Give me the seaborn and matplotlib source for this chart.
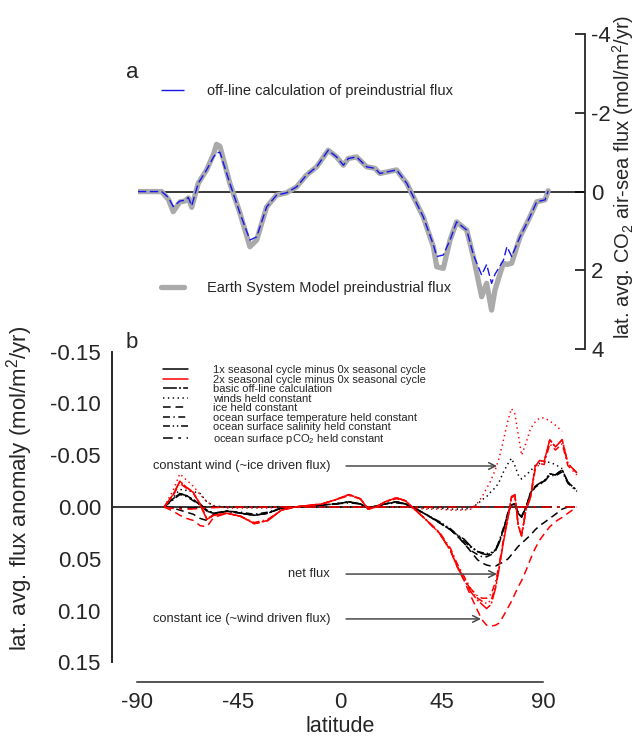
import numpy as np
import pandas as pd
import matplotlib
matplotlib.use("Agg")
import matplotlib.pyplot as plt
from matplotlib.lines import Line2D
import seaborn as sns

sns.set_style("white")
plt.rcParams["font.family"] = ["Liberation Sans", "DejaVu Sans"]
plt.rcParams["mathtext.fontset"] = "custom"
plt.rcParams["mathtext.rm"] = "Liberation Sans"
plt.rcParams["mathtext.it"] = "Liberation Sans:italic"
plt.rcParams["axes.unicode_minus"] = False
plt.rcParams["lines.scale_dashes"] = False

# ---- panel a: latitudinal average preindustrial flux (mol/m2/yr, positive = into ocean shown downward)
lat_a = [-89.5, -79, -76, -73.9, -70.9, -68.7, -67.2, -65.7, -62.8, -59.1, -56, -54.7, -53.2,
         -48.8, -44.3, -39.9, -36.9, -32.5, -28.1, -23.6, -19.2, -14.8, -10.3, -5.2, -1.5, 1.5,
         3.7, 7.4, 11.8, 15.5, 17.7, 25.1, 29.6, 32.5, 36.9, 41.4, 42.9, 45.8, 48.8, 51.7,
         56.2, 59.1, 62.8, 65.0, 67.2, 68.7, 72.4, 74, 76.1, 79.8, 84.2, 87.2, 90.9, 92.3]
esm_a = [0, 0, 0.2, 0.51, 0.26, 0.24, 0.16, 0.40, -0.21, -0.55, -0.95, -1.2, -1.15,
         -0.21, 0.55, 1.40, 1.23, 0.39, 0.09, 0.03, -0.12, -0.42, -0.63, -1.05, -0.88, -0.67,
         -0.84, -0.88, -0.63, -0.59, -0.46, -0.55, -0.21, 0.13, 0.64, 1.40, 1.91, 1.95, 1.23, 0.77,
         0.98, 1.65, 2.67, 2.33, 3.01, 2.50, 1.82, 1.85, 1.82, 1.15, 0.64, 0.26, 0.21, -0.02]
offline_a = [0, 0, 0.15, 0.38, 0.24, 0.22, 0.15, 0.36, -0.21, -0.55, -0.88, -0.98, -1.0,
             -0.21, 0.55, 1.23, 1.15, 0.39, 0.09, 0.03, -0.12, -0.42, -0.63, -1.05, -0.88, -0.67,
             -0.84, -0.88, -0.63, -0.59, -0.46, -0.55, -0.21, 0.13, 0.64, 1.35, 1.65, 1.61, 1.23, 0.77,
             0.98, 1.60, 2.12, 1.85, 2.33, 2.10, 1.75, 1.40, 1.65, 1.15, 0.64, 0.26, 0.21, -0.02]

# ---- panel b: seasonal-cycle flux anomaly (mol/m2/yr)
lat_b = [-78, -74, -71, -68, -65, -62, -59, -56, -50, -44, -38, -32, -26,
         -20, -8, -2, 4, 9, 12.5, 16, 20, 25, 29, 33, 38, 44,
         49, 52, 55, 58, 61, 63, 65, 67, 69, 70.5, 72.5, 74.5, 76,
         77.5, 79, 80.5, 82.5, 84.5, 86.5, 88.5, 90.5, 93, 95.5, 98.5, 101, 105]
nan = np.nan
basic_1x = [0.000, -0.008, -0.013, -0.011, -0.007, -0.003, 0.003, 0.006, 0.004, 0.006, 0.008, 0.006, 0.001,
            0.000, -0.002, -0.003, -0.005, -0.003, 0.001, -0.001, -0.003, -0.005, -0.003, 0.001, 0.007, 0.015,
            0.022, 0.027, 0.031, 0.038, 0.043, 0.045, 0.046, 0.045, 0.042, 0.035, 0.022, 0.006, -0.002,
            -0.003, 0.006, 0.010, 0.000, -0.014, -0.020, -0.023, -0.025, -0.032, -0.031, -0.036, -0.024, -0.016]
basic_2x = [0.000, -0.012, -0.025, -0.019, -0.014, -0.002, 0.012, 0.008, 0.006, 0.009, 0.016, 0.013, 0.003,
            0.000, -0.003, -0.007, -0.012, -0.008, 0.002, 0.000, -0.005, -0.009, -0.006, 0.002, 0.012, 0.025,
            0.042, 0.058, 0.070, 0.082, 0.090, 0.094, 0.098, 0.094, 0.078, 0.060, 0.033, 0.010, -0.010,
            -0.012, 0.018, 0.028, 0.002, -0.010, -0.039, -0.045, -0.044, -0.065, -0.058, -0.065, -0.042, -0.033]
winds_1x = [0.000, -0.009, -0.017, -0.016, -0.015, -0.013, -0.005, -0.001, 0.000, 0.000, 0.000, 0.000, 0.000,
            0.000, 0.000, 0.000, 0.000, 0.000, 0.000, 0.000, 0.000, 0.000, 0.000, 0.000, 0.001, 0.001,
            0.002, 0.002, 0.002, 0.001, -0.003, -0.007, -0.010, -0.015, -0.019, -0.024, -0.034, -0.042, -0.047,
            -0.040, -0.031, -0.027, -0.031, -0.035, -0.040, -0.042, -0.044, -0.043, -0.041, -0.037, nan, nan]
winds_2x = [0.000, -0.016, -0.032, -0.026, -0.020, -0.012, -0.005, -0.001, 0.001, 0.001, 0.001, 0.001, 0.000,
            0.000, 0.000, 0.000, 0.000, 0.000, 0.000, 0.000, 0.000, 0.000, 0.000, 0.001, 0.002, 0.002,
            0.003, 0.003, 0.003, 0.002, -0.004, -0.010, -0.018, -0.026, -0.037, -0.047, -0.065, -0.084, -0.095,
            -0.090, -0.070, -0.050, -0.062, -0.076, -0.082, -0.086, -0.086, -0.083, -0.079, -0.073, nan, nan]
ice_1x = [0.000, 0.001, 0.003, 0.005, 0.007, 0.011, 0.013, 0.007, 0.004, 0.006, 0.008, 0.006, 0.001,
          0.000, -0.002, -0.003, -0.005, -0.003, 0.001, -0.001, -0.003, -0.005, -0.003, 0.001, 0.007, 0.015,
          0.022, 0.028, 0.035, 0.043, 0.051, 0.054, 0.056, 0.057, 0.057, 0.055, 0.053, 0.050, 0.046,
          0.042, 0.038, 0.035, 0.031, 0.027, 0.022, 0.018, 0.015, 0.011, 0.007, 0.002, 0.000, nan]
ice_2x = [0.000, 0.004, 0.008, 0.011, 0.013, 0.018, 0.019, 0.010, 0.006, 0.009, 0.016, 0.013, 0.003,
          0.000, -0.003, -0.007, -0.012, -0.008, 0.002, 0.000, -0.005, -0.009, -0.006, 0.002, 0.012, 0.025,
          0.042, 0.058, 0.071, 0.086, 0.100, 0.109, 0.114, 0.115, 0.114, 0.112, 0.105, 0.097, 0.091,
          0.084, 0.077, 0.071, 0.061, 0.050, 0.040, 0.032, 0.026, 0.019, 0.014, 0.010, 0.006, 0.000]
sst_1x = [0.000, -0.007, -0.012, -0.010, -0.006, -0.002, 0.004, 0.006, 0.004, 0.005, 0.007, 0.005, 0.001,
          0.000, -0.002, -0.003, -0.004, -0.003, 0.001, -0.001, -0.003, -0.004, -0.003, 0.001, 0.007, 0.015,
          0.022, 0.028, 0.035, 0.042, 0.046, 0.048, 0.048, 0.046, 0.041, 0.033, 0.020, 0.005, -0.002,
          -0.003, 0.005, 0.009, 0.000, -0.013, -0.019, -0.022, -0.024, -0.031, -0.030, -0.034, -0.023, -0.015]
sst_2x = [0.000, -0.011, -0.023, -0.018, -0.013, -0.003, 0.011, 0.008, 0.006, 0.009, 0.015, 0.012, 0.003,
          0.000, -0.003, -0.007, -0.011, -0.008, 0.002, 0.000, -0.005, -0.008, -0.006, 0.002, 0.012, 0.024,
          0.040, 0.055, 0.067, 0.079, 0.086, 0.088, 0.088, 0.084, 0.072, 0.056, 0.031, 0.009, -0.009,
          -0.011, 0.017, 0.026, 0.002, -0.009, -0.036, -0.042, -0.041, -0.061, -0.055, -0.061, -0.040, -0.031]
sss_1x = [0.000, -0.008, -0.013, -0.011, -0.007, -0.002, 0.004, 0.006, 0.004, 0.006, 0.008, 0.006, 0.001,
          0.000, -0.002, -0.003, -0.005, -0.003, 0.001, -0.001, -0.003, -0.005, -0.003, 0.001, 0.007, 0.014,
          0.021, 0.027, 0.033, 0.039, 0.043, 0.044, 0.045, 0.044, 0.041, 0.034, 0.021, 0.006, -0.002,
          -0.003, 0.006, 0.010, 0.000, -0.014, -0.020, -0.023, -0.025, -0.032, -0.031, -0.036, -0.024, -0.016]
sss_2x = [0.000, -0.012, -0.024, -0.019, -0.014, -0.003, 0.012, 0.008, 0.006, 0.009, 0.016, 0.013, 0.003,
          0.000, -0.003, -0.007, -0.012, -0.008, 0.002, 0.000, -0.005, -0.009, -0.006, 0.002, 0.012, 0.025,
          0.042, 0.057, 0.069, 0.080, 0.088, 0.091, 0.093, 0.090, 0.076, 0.059, 0.033, 0.010, -0.010,
          -0.012, 0.018, 0.028, 0.002, -0.010, -0.039, -0.045, -0.044, -0.065, -0.058, -0.065, -0.042, -0.033]
lat_pco2 = [-78, -72, -66, -60, -50, 0, 50, 60, 70, 80, 90, 105]
pco2_1x = [0, 0.001, 0.001, 0, 0, 0, 0, 0, 0, 0, 0, 0]
pco2_2x = [0, 0.002, 0.002, 0.001, 0, 0, 0, 0, 0, 0, 0, 0]

experiments = ["basic off-line calculation", "winds held constant", "ice held constant",
               "ocean surface temperature held constant", "ocean surface salinity held constant",
               "ocean surface pCO$_2$ held constant"]
cycles = ["1x seasonal cycle minus 0x seasonal cycle", "2x seasonal cycle minus 0x seasonal cycle"]
annot_labels = ["constant wind (~ice driven flux)", "net flux", "constant ice (~wind driven flux)"]
annot_y = [-0.0396, 0.0647, 0.108]
annot_tip = [69.6, 69.6, 62.5]

series = {
    (cycles[0], experiments[0]): (lat_b, basic_1x), (cycles[1], experiments[0]): (lat_b, basic_2x),
    (cycles[0], experiments[1]): (lat_b, winds_1x), (cycles[1], experiments[1]): (lat_b, winds_2x),
    (cycles[0], experiments[2]): (lat_b, ice_1x), (cycles[1], experiments[2]): (lat_b, ice_2x),
    (cycles[0], experiments[3]): (lat_b, sst_1x), (cycles[1], experiments[3]): (lat_b, sst_2x),
    (cycles[0], experiments[4]): (lat_b, sss_1x), (cycles[1], experiments[4]): (lat_b, sss_2x),
    (cycles[0], experiments[5]): (lat_pco2, pco2_1x), (cycles[1], experiments[5]): (lat_pco2, pco2_2x),
}
frames = []
for (cyc, exp), (lat, val) in series.items():
    frames.append(pd.DataFrame({"lat": lat, "flux": val, "cycle": cyc, "experiment": exp}))
df_b = pd.concat(frames, ignore_index=True).dropna()

dash_map = {experiments[0]: (10, 1.5, 1.5, 1.5), experiments[1]: (1, 2.5),
            experiments[2]: (5.5, 3.5), experiments[3]: (5, 2.5, 1, 2.5),
            experiments[4]: (5, 2, 1, 2, 1, 2), experiments[5]: (7, 4, 2, 4)}
palette = {cycles[0]: "#000000", cycles[1]: "#ff0000"}

fig = plt.figure(figsize=(6.35, 7.36), dpi=100)
ax_a = fig.add_axes([138 / 635, 1 - 355 / 736, 447 / 635, 330 / 736])
ax_b = fig.add_axes([112 / 635, 1 - 670 / 736, 466 / 635, 330 / 736])
for ax in (ax_a, ax_b):
    ax.patch.set_visible(False)

# ---- panel a
ax_a.axhline(0, color="black", lw=1.1)
sns.lineplot(x=lat_a, y=esm_a, ax=ax_a, color="#aaaaaa", lw=3.8, sort=False)
sns.lineplot(x=lat_a, y=offline_a, ax=ax_a, color="#1515f0", lw=1.0, linestyle=(0, (6, 2.5)), sort=False)
ax_a.set_xlim(-89.5, 108.6)
ax_a.set_ylim(4.15, -4.23)
for s in ("left", "top", "bottom"):
    ax_a.spines[s].set_visible(False)
ax_a.spines["right"].set_bounds(-4, 4)
ax_a.spines["right"].set_linewidth(1.3)
ax_a.yaxis.tick_right()
ax_a.set_xticks([])
ax_a.set_yticks([-4, -2, 0, 2, 4])
ax_a.set_yticklabels(["-4", "-2", "0", "2", "4"])
ax_a.tick_params(axis="y", direction="in", length=7, width=1.3, labelsize=16, pad=4.5)
ax_a.yaxis.set_label_position("right")
ax_a.set_ylabel("lat. avg. CO$_2$ air-sea flux (mol/m$^2$/yr)", fontsize=14.5, rotation=90)
ax_a.yaxis.set_label_coords(1.057, 0.54)

h_off = Line2D([], [], color="#1515f0", lw=1.0, linestyle=(0, (16.6, 4)))
h_esm = Line2D([], [], color="#aaaaaa", lw=3.8)
leg_kw = dict(loc="center left", bbox_transform=fig.transFigure, frameon=False, fontsize=10.5,
              handlelength=1.58, handletextpad=1.58, borderpad=0, borderaxespad=0)
leg1 = ax_a.legend([h_off], ["off-line calculation of preindustrial flux"],
                   bbox_to_anchor=(161 / 635, 1 - 91 / 736), **leg_kw)
ax_a.add_artist(leg1)
ax_a.legend([h_esm], ["Earth System Model preindustrial flux"],
            bbox_to_anchor=(161 / 635, 1 - 288 / 736), **leg_kw)

# ---- panel b
ax_b.hlines(0, -101.06, 94, color="black", lw=1.1)
sns.lineplot(data=df_b, x="lat", y="flux", hue="cycle", style="experiment",
             hue_order=cycles, style_order=experiments, palette=palette, dashes=dash_map,
             estimator=None, sort=False, lw=1.1, legend=False, ax=ax_b)
ax_b.set_xlim(-101.06, 105.5)
ax_b.set_ylim(0.1573, -0.1612)
ax_b.spines["top"].set_visible(False)
ax_b.spines["right"].set_visible(False)
ax_b.spines["left"].set_bounds(-0.15, 0.15)
ax_b.spines["left"].set_linewidth(1.4)
ax_b.spines["bottom"].set_bounds(-90, 90)
ax_b.spines["bottom"].set_position(("outward", 8.6))
ax_b.spines["bottom"].set_linewidth(1.1)
yt = [-0.15, -0.10, -0.05, 0.0, 0.05, 0.10, 0.15]
ax_b.set_yticks(yt)
ax_b.set_yticklabels([f"{v:.2f}" for v in yt])
ax_b.set_xticks([-90, -45, 0, 45, 90])
ax_b.set_xticklabels(["-90", "-45", "0", "45", "90"])
ax_b.tick_params(axis="y", direction="in", length=4, width=1.4, labelsize=16, pad=8)
ax_b.tick_params(axis="x", direction="in", length=2, width=1.0, labelsize=16, pad=7.5)
ax_b.set_ylabel("lat. avg. flux anomaly (mol/m$^2$/yr)", fontsize=16)
ax_b.yaxis.set_label_coords(-0.165, 0.55)
ax_b.set_xlabel("latitude", fontsize=15.5)
ax_b.xaxis.set_label_coords(0.489, -0.138)

for label, y, tip in zip(annot_labels, annot_y, annot_tip):
    ax_b.text(-4.4, y, label, ha="right", va="center", fontsize=9.3)
    ax_b.annotate("", xy=(tip, y), xytext=(2.7, y),
                  arrowprops=dict(arrowstyle="->", color="#4a4a4a", lw=1.1,
                                  shrinkA=0, shrinkB=0, mutation_scale=12))

handles = [Line2D([], [], color="#000000", lw=1.1), Line2D([], [], color="#ff0000", lw=1.1)]
handles += [Line2D([], [], color="#000000", lw=1.1, linestyle=(0, dash_map[e])) for e in experiments]
ax_b.legend(handles, cycles + experiments, loc="upper left",
            bbox_to_anchor=(163 / 635, 1 - 365 / 736), bbox_transform=fig.transFigure,
            frameon=False, fontsize=8, handlelength=2.25, handletextpad=2.25,
            labelspacing=-0.04, borderpad=0, borderaxespad=0)

fig.text(132 / 635, 1 - 73 / 736, "a", fontsize=16, ha="center", va="center")
fig.text(132 / 635, 1 - 343 / 736, "b", fontsize=16, ha="center", va="center")

fig.savefig("out.png", dpi=100)
